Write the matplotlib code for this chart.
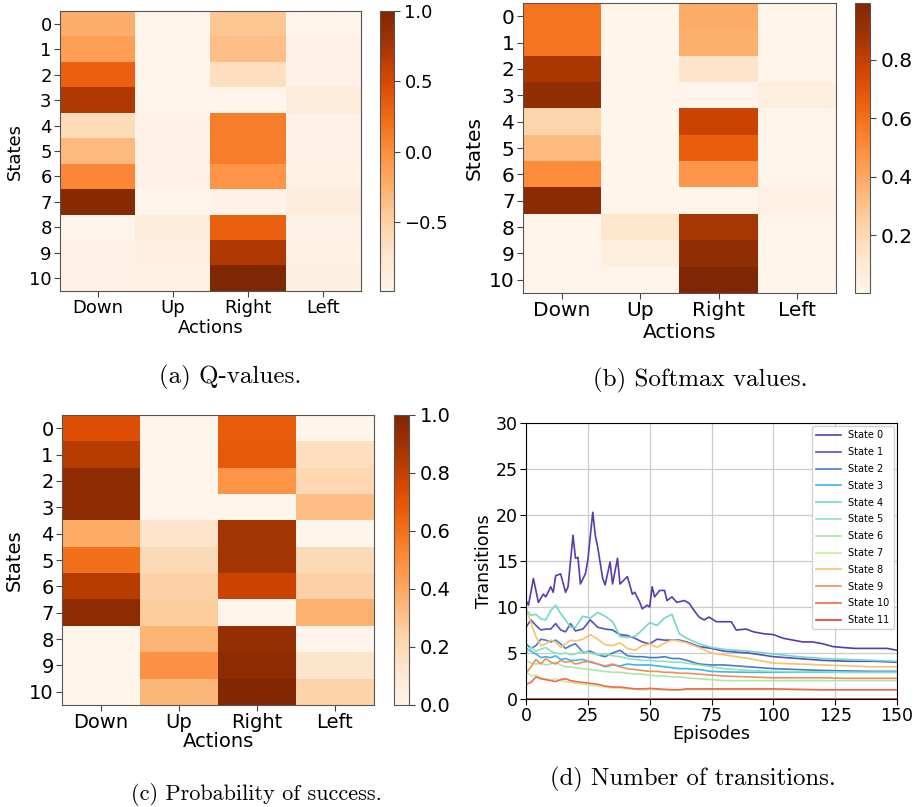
import matplotlib
matplotlib.use("Agg")
import matplotlib.pyplot as plt
import numpy as np

# ---------------- data ----------------
actions = ["Down", "Up", "Right", "Left"]
states = [str(i) for i in range(11)]

q_values = np.array([
    [-0.25, -0.97, -0.43, -0.97],
    [-0.13, -0.97, -0.37, -0.95],
    [0.32, -0.97, -0.65, -0.95],
    [0.70, -0.97, -0.99, -0.85],
    [-0.63, -0.95, 0.10, -0.95],
    [-0.33, -0.95, 0.10, -0.95],
    [0.04, -0.95, -0.05, -0.93],
    [0.94, -0.97, -0.95, -0.87],
    [-0.97, -0.87, 0.32, -0.95],
    [-0.95, -0.89, 0.70, -0.93],
    [-0.95, -0.93, 1.00, -0.91],
])

softmax_values = np.array([
    [0.58, 0.004, 0.38, 0.006],
    [0.58, 0.004, 0.37, 0.006],
    [0.86, 0.004, 0.14, 0.006],
    [0.93, 0.004, 0.006, 0.06],
    [0.22, 0.004, 0.78, 0.006],
    [0.33, 0.004, 0.66, 0.006],
    [0.50, 0.004, 0.46, 0.006],
    [0.96, 0.006, 0.006, 0.03],
    [0.006, 0.12, 0.87, 0.006],
    [0.006, 0.06, 0.93, 0.006],
    [0.006, 0.01, 0.995, 0.002],
])

prob_success = np.array([
    [0.72, 0.0, 0.67, 0.0],
    [0.83, 0.0, 0.68, 0.17],
    [0.95, 0.0, 0.47, 0.20],
    [0.95, 0.0, 0.0, 0.32],
    [0.38, 0.14, 0.88, 0.0],
    [0.60, 0.19, 0.88, 0.19],
    [0.83, 0.24, 0.78, 0.24],
    [0.95, 0.26, 0.0, 0.36],
    [0.0, 0.35, 0.93, 0.0],
    [0.0, 0.48, 0.95, 0.13],
    [0.0, 0.34, 0.99, 0.23],
])

# Transitions per episode
ep_s0 = [0, 1, 3, 5, 7, 8, 10, 11, 12, 14, 16, 17, 19, 20, 21, 22, 24, 25, 27, 28,
         29, 31, 32, 34, 35, 37, 38, 41, 43, 44, 46, 47, 49, 50, 51, 52, 54, 56, 57,
         59, 61, 64, 66, 68, 70, 72, 74, 77, 80, 83, 85, 89, 92, 96, 100, 104, 108,
         112, 116, 120, 124, 128, 133, 139, 146, 150]
state_0 = [10.7, 10.2, 13.1, 10.5, 11.4, 11.1, 12.2, 11.6, 13.4, 13.6, 11.6, 12.2,
           17.8, 15.3, 15.4, 12.5, 13.6, 15.1, 20.3, 17.8, 16.5, 13.1, 12.4, 14.9,
           12.5, 15.3, 12.5, 13.3, 11.4, 11.6, 10.5, 9.8, 10.2, 10.0, 12.2, 11.1,
           11.8, 11.8, 10.7, 11.1, 10.5, 10.7, 10.4, 9.6, 8.9, 8.6, 8.9, 8.4, 8.4,
           8.4, 7.5, 7.6, 7.3, 7.1, 7.0, 6.6, 6.4, 6.2, 6.2, 6.0, 5.7, 5.6, 5.5,
           5.5, 5.5, 5.3]

episodes = [0, 2, 4, 6, 8, 10, 12, 14, 16, 18, 20, 23, 26, 29, 32, 35, 38, 41, 44,
            47, 50, 53, 56, 59, 62, 65, 70, 75, 80, 90, 100, 110, 120, 130, 140, 150]
state_1 = [7.8, 8.6, 8.0, 7.5, 7.6, 7.6, 8.2, 7.5, 7.3, 8.2, 7.4, 7.6, 8.6, 7.8,
           7.6, 7.5, 7.0, 6.9, 6.6, 6.2, 6.0, 6.5, 6.4, 6.4, 6.4, 6.2, 5.7, 5.5,
           5.2, 5.0, 4.6, 4.4, 4.2, 4.1, 4.1, 4.0]
state_2 = [6.0, 5.5, 5.8, 6.5, 6.4, 6.2, 6.4, 6.0, 5.5, 5.8, 6.0, 5.1, 5.2, 4.8,
           4.6, 5.0, 5.3, 4.7, 4.6, 4.6, 4.5, 4.5, 4.6, 4.4, 4.4, 4.2, 3.8, 3.7,
           3.7, 3.5, 3.3, 3.2, 3.1, 3.05, 3.0, 3.0]
state_3 = [5.5, 5.2, 4.9, 4.5, 4.6, 4.5, 4.7, 4.3, 4.4, 4.2, 4.2, 4.3, 4.0, 3.8,
           3.5, 3.7, 3.6, 3.8, 3.7, 3.7, 3.7, 3.6, 3.5, 3.4, 3.3, 3.3, 3.2, 3.0,
           2.95, 2.9, 2.9, 2.9, 2.9, 2.9, 2.9, 2.9]
state_4 = [9.7, 9.1, 9.2, 8.7, 8.6, 9.6, 10.2, 9.3, 8.6, 7.8, 7.8, 9.0, 8.8, 9.4,
           9.0, 8.4, 6.8, 6.7, 6.8, 7.5, 8.3, 8.0, 8.8, 9.2, 7.1, 6.6, 6.0, 5.6,
           5.4, 5.2, 4.9, 4.6, 4.4, 4.3, 4.2, 4.1]
state_5 = [5.0, 5.6, 5.2, 5.4, 5.6, 5.2, 5.0, 4.9, 5.0, 4.8, 4.9, 5.2, 5.0, 4.8,
           4.9, 4.7, 4.6, 4.4, 4.3, 4.2, 4.2, 4.1, 4.1, 4.0, 4.0, 3.9, 3.7, 3.5,
           3.3, 3.1, 3.0, 2.95, 2.95, 2.9, 2.9, 2.9]
state_6 = [4.2, 3.9, 3.8, 3.9, 3.7, 3.8, 4.0, 3.7, 3.5, 3.5, 3.4, 3.3, 3.2, 3.1,
           3.0, 2.9, 2.9, 2.8, 2.7, 2.7, 2.6, 2.5, 2.5, 2.4, 2.4, 2.3, 2.2, 2.1,
           2.0, 2.0, 2.0, 2.0, 2.0, 2.0, 2.0, 2.0]
state_7 = [3.0, 2.5, 2.6, 2.3, 2.2, 2.1, 2.2, 2.0, 1.9, 1.8, 1.7, 1.6, 1.5, 1.4,
           1.3, 1.2, 1.15, 1.1, 1.05, 1.0, 1.0, 1.0, 1.0, 1.0, 1.0, 1.0, 1.0, 1.0,
           1.0, 1.0, 1.0, 1.0, 1.0, 1.0, 1.0, 1.0]
state_8 = [9.8, 8.3, 6.8, 5.8, 6.0, 6.4, 6.2, 5.6, 6.0, 6.4, 6.3, 6.5, 7.0, 6.5,
           5.9, 5.8, 6.1, 5.5, 5.3, 5.8, 6.0, 5.6, 6.1, 6.4, 6.3, 6.1, 5.6, 5.0,
           4.8, 4.4, 3.9, 3.8, 3.7, 3.6, 3.5, 3.5]
state_9 = [2.8, 3.5, 4.3, 3.8, 4.4, 4.0, 3.8, 4.2, 4.0, 4.1, 3.8, 4.0, 4.1, 3.8,
           3.6, 3.8, 3.5, 3.3, 3.2, 3.1, 3.0, 3.0, 2.9, 2.9, 2.8, 2.8, 2.7, 2.6,
           2.5, 2.4, 2.3, 2.3, 2.3, 2.25, 2.25, 2.25]
state_10 = [1.6, 1.8, 2.4, 2.2, 2.1, 2.0, 1.9, 2.1, 2.2, 2.0, 1.9, 1.8, 1.7, 1.6,
            1.4, 1.3, 1.3, 1.2, 1.1, 1.1, 1.15, 1.1, 1.05, 1.0, 1.0, 1.1, 1.1, 1.1,
            1.1, 1.1, 1.1, 1.05, 1.0, 1.0, 1.0, 1.0]
state_11 = [0.0] * len(episodes)

state_labels = ["State %d" % i for i in range(12)]
state_colors = ["#5a3ab0", "#5454b6", "#4a7cc6", "#3ab8e6", "#72d8cc", "#8ce2c2",
                "#a8e8a6", "#cbec98", "#f9c06e", "#f58c5c", "#f0684e", "#e83a2c"]

# ---------------- figure ----------------
W, H = 923, 807
fig = plt.figure(figsize=(W / 100, H / 100), dpi=100)


def px_axes(l, t, r, b):
    return fig.add_axes([l / W, 1 - b / H, (r - l) / W, (b - t) / H])


def heatmap(ax_box, cax_box, data, fs, cticks, xpad):
    ax = px_axes(*ax_box)
    im = ax.imshow(data, cmap="Oranges", aspect="auto", interpolation="nearest")
    ax.set_xticks(range(len(actions)))
    ax.set_xticklabels(actions)
    ax.set_yticks(range(len(states)))
    ax.set_yticklabels(states)
    ax.tick_params(labelsize=fs, length=4, color="#444444", pad=2)
    ax.set_xlabel("Actions", fontsize=fs, labelpad=xpad)
    ax.set_ylabel("States", fontsize=fs, labelpad=4)
    for s in ax.spines.values():
        s.set_color("#555555")
    cax = px_axes(*cax_box)
    cb = fig.colorbar(im, cax=cax)
    if cticks is not None:
        cb.set_ticks(cticks)
    cb.ax.tick_params(labelsize=fs, length=4, color="#444444")
    cb.outline.set_edgecolor("#555555")
    return ax, im


heatmap((60, 11, 361, 291), (380, 11, 394, 291), q_values, 13,
        [-0.5, 0.0, 0.5, 1.0], 1)
heatmap((523, 3, 836, 293), (855, 3, 870, 293), softmax_values, 14.5,
        [0.2, 0.4, 0.6, 0.8], 2)
ax_c, im_c = heatmap((62, 415, 374, 705), (394, 415, 409, 705), prob_success,
                     14, [0.0, 0.2, 0.4, 0.6, 0.8, 1.0], 0)
im_c.set_clim(0.0, 1.0)

# line chart
axd = px_axes(526, 423, 897, 699)
series = [state_0, state_1, state_2, state_3, state_4, state_5, state_6, state_7,
          state_8, state_9, state_10, state_11]
for i, ys in enumerate(series):
    xs = ep_s0 if i == 0 else episodes
    axd.plot(xs, ys, color=state_colors[i], lw=1.2, label=state_labels[i])
axd.set_xlim(0, 150)
axd.set_ylim(0, 30)
axd.set_xticks([0, 25, 50, 75, 100, 125, 150])
axd.set_yticks([0, 5, 10, 15, 20, 25, 30])
axd.grid(True, color="#cccccc", lw=0.9)
axd.set_axisbelow(True)
axd.tick_params(labelsize=12.5, length=4, pad=2)
axd.set_xlabel("Episodes", fontsize=12.5, labelpad=0)
axd.set_ylabel("Transitions", fontsize=12.5, labelpad=2)
axd.legend(loc="upper right", fontsize=7, handlelength=2.5, labelspacing=0.7,
           borderaxespad=0.35, framealpha=0.9)

# captions
cap = dict(family="cmr10", ha="center", va="center")
fig.text(230 / W, 1 - 377 / H, "(a) Q-values.", fontsize=18, **cap)
fig.text(700 / W, 1 - 380 / H, "(b) Softmax values.", fontsize=18, **cap)
fig.text(256 / W, 1 - 795 / H, "(c) Probability of success.", fontsize=16, **cap)
fig.text(693 / W, 1 - 779 / H, "(d) Number of transitions.", fontsize=17.8, **cap)

fig.savefig("out.png", dpi=100)
